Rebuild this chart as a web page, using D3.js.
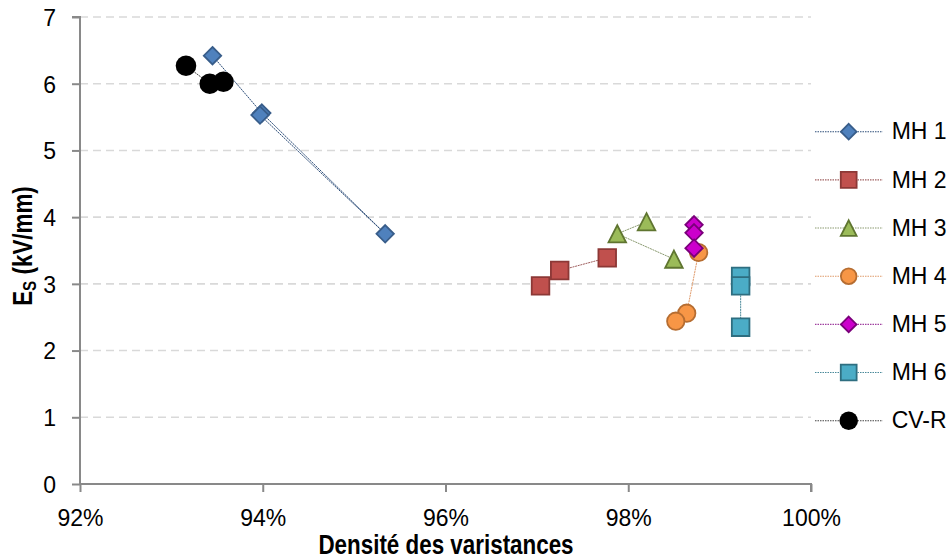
<!DOCTYPE html>
<html><head><meta charset="utf-8">
<script src="https://cdn.jsdelivr.net/npm/d3@7"></script>
<style>body{margin:0;background:#fff}svg{display:block}</style>
</head><body><svg id="c" width="952" height="559"></svg>
<script>
const seriesNames = ["MH 1","MH 2","MH 3","MH 4","MH 5","MH 6","CV-R"];
const mh1X = [93.45, 93.99, 95.34, 93.97];
const mh1Y = [6.42, 5.56, 3.75, 5.53];
const mh2X = [97.04, 97.25, 97.77];
const mh2Y = [2.97, 3.20, 3.39];
const mh3X = [98.20, 97.88, 98.50];
const mh3Y = [3.93, 3.75, 3.37];
const mh4X = [98.77, 98.64, 98.52];
const mh4Y = [3.47, 2.56, 2.44];
const mh5X = [98.72, 98.72, 98.72];
const mh5Y = [3.885, 3.765, 3.535];
const mh6X = [99.23, 99.23, 99.23];
const mh6Y = [3.11, 2.97, 2.35];
const cvrX = [93.16, 93.42, 93.57];
const cvrY = [6.27, 6.00, 6.03];
const xTicks = [92, 94, 96, 98, 100];
const yTicks = [0, 1, 2, 3, 4, 5, 6, 7];

const styles = [
  {shape:"diamond", fill:"#4F81BD", stroke:"#385D8A", line:"#2F4F7A"},
  {shape:"square", fill:"#C0504D", stroke:"#8C3836", line:"#A06060"},
  {shape:"triangle", fill:"#9BBB59", stroke:"#5F7530", line:"#8A9A70"},
  {shape:"circle", fill:"#F79646", stroke:"#B66D31", line:"#E09A6A"},
  {shape:"diamond", fill:"#CC00CC", stroke:"#7A007A", line:"#A040A0"},
  {shape:"square", fill:"#4BACC6", stroke:"#2E6E80", line:"#4A8A9A"},
  {shape:"bigcircle", fill:"#000000", stroke:"none", line:"#444444"}
];
const xs = [mh1X, mh2X, mh3X, mh4X, mh5X, mh6X, cvrX];
const ys = [mh1Y, mh2Y, mh3Y, mh4Y, mh5Y, mh6Y, cvrY];
const series = seriesNames.map((n,i)=>({name:n, st:styles[i], pts: xs[i].map((x,j)=>[x, ys[i][j]])}));

const svg = d3.select("#c");
const x = d3.scaleLinear().domain([92,100]).range([80,811]);
const y = d3.scaleLinear().domain([0,7]).range([484,17]);
const FONT = "'Liberation Sans', Arial, sans-serif";

// gridlines
svg.append("g").selectAll("line").data(yTicks.filter(d=>d>0)).join("line")
  .attr("x1", x(92)).attr("x2", x(100)).attr("y1", d=>y(d)).attr("y2", d=>y(d))
  .attr("stroke", "#D9D9D9").attr("stroke-width", 1.6).attr("stroke-dasharray", "8,5");

// axes
const axC = "#898989";
const yAx = svg.append("g").attr("transform", `translate(${x(92)},0)`)
  .call(d3.axisLeft(y).tickValues(yTicks).tickSize(8).tickFormat(d3.format("d")));
const xAx = svg.append("g").attr("transform", `translate(0,${y(0)})`)
  .call(d3.axisBottom(x).tickValues(xTicks).tickSize(8).tickFormat(d=>d+"%"));
[yAx, xAx].forEach(g=>{
  g.select(".domain").attr("stroke", axC).attr("stroke-width", 2);
  g.selectAll(".tick line").attr("stroke", axC).attr("stroke-width", 2);
  g.selectAll(".tick text").attr("font-family", FONT).attr("font-size", 23).attr("fill", "#000");
});
yAx.select(".domain").attr("d", `M-8,${y(7)}H0V${y(0)}`);
xAx.select(".domain").attr("d", `M${x(92)},0H${x(100)}V8`);
yAx.selectAll(".tick text").attr("x", -24).attr("dy", null).attr("y", 8.3);
xAx.selectAll(".tick text").attr("dy", null).attr("y", 41.7);

function markerPath(shape, s) {
  if (shape === "diamond") { const h = 8.7*s; return `M0,${-h}L${h},0L0,${h}L${-h},0Z`; }
  if (shape === "square") { const h = 8.8*s; return `M${-h},${-h}H${h}V${h}H${-h}Z`; }
  if (shape === "triangle") { const h = 8.6*s; return `M0,${-h}L${h*1.02},${h}L${-h*1.02},${h}Z`; }
  if (shape === "circle") { const r = 8.7*s; return `M${r},0A${r},${r} 0 1 1 ${-r},0A${r},${r} 0 1 1 ${r},0Z`; }
  const r = 10.3*s; return `M${r},0A${r},${r} 0 1 1 ${-r},0A${r},${r} 0 1 1 ${r},0Z`;
}

const line = d3.line().x(d=>x(d[0])).y(d=>y(d[1]));
series.forEach(s=>{
  const g = svg.append("g");
  g.append("path").attr("d", line(s.pts)).attr("fill","none")
    .attr("stroke", s.st.line).attr("stroke-width", 1).attr("stroke-dasharray","2,0.7");
  g.selectAll("path.m").data(s.pts).join("path").attr("class","m")
    .attr("transform", d=>`translate(${x(d[0])},${y(d[1])})`)
    .attr("d", markerPath(s.st.shape, 1))
    .attr("fill", s.st.fill).attr("stroke", s.st.stroke).attr("stroke-width", 1.8)
    .attr("stroke-linejoin","miter");
});

// legend
const leg = svg.append("g");
series.forEach((s,i)=>{
  const cy = 131.7 + i*48.17;
  leg.append("line").attr("x1",815).attr("x2",882.7).attr("y1",cy).attr("y2",cy)
    .attr("stroke", s.st.line).attr("stroke-width",1.1).attr("stroke-dasharray","1.5,1");
  leg.append("path").attr("transform",`translate(848.7,${cy})`)
    .attr("d", markerPath(s.st.shape, 0.9))
    .attr("fill", s.st.fill).attr("stroke", s.st.stroke).attr("stroke-width", 1.8);
  leg.append("text").attr("x",891.7).attr("y",cy+7.7).attr("font-family",FONT)
    .attr("font-size",23).attr("fill","#000").text(s.name);
});

// axis titles
svg.append("text").attr("transform","translate(446,554.3) scale(0.8,1)")
  .attr("text-anchor","middle").attr("font-family",FONT).attr("font-weight","bold")
  .attr("font-size",28).text("Densité des varistances");
const yt = svg.append("text").attr("transform","translate(31.5,246) rotate(-90) scale(0.8,1)")
  .attr("text-anchor","middle").attr("font-family",FONT).attr("font-weight","bold")
  .attr("font-size",28);
yt.append("tspan").text("E");
yt.append("tspan").attr("font-size",19).attr("dy",4).text("S");
yt.append("tspan").attr("dy",-4).text(" (kV/mm)");
</script></body></html>
